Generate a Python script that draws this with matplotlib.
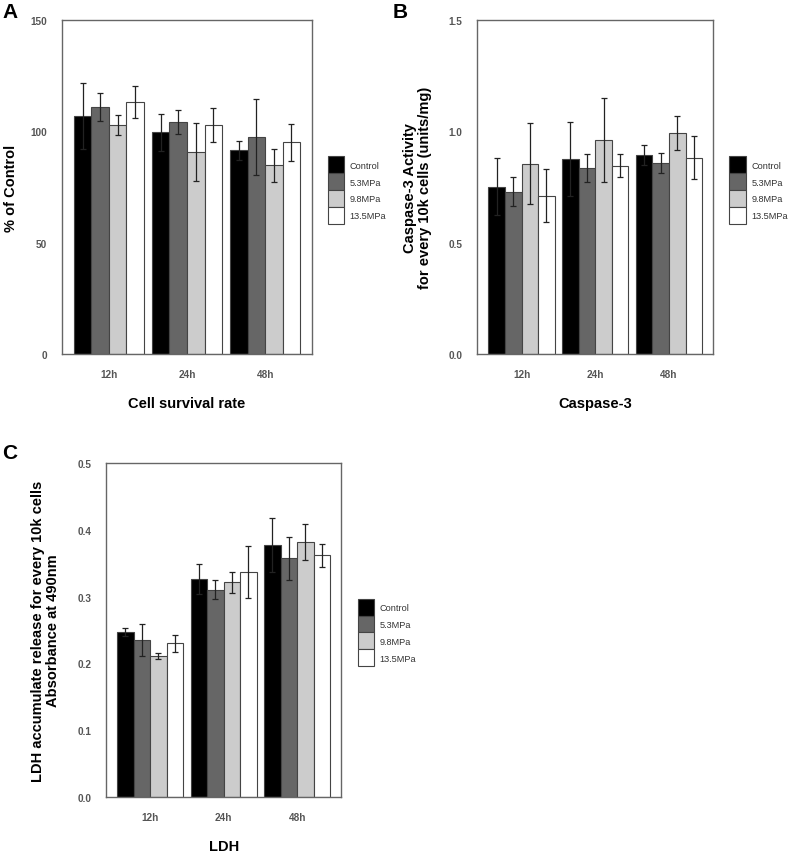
import numpy as np
import matplotlib
matplotlib.use("Agg")
import matplotlib.pyplot as plt

plt.rcParams['font.family'] = ['Liberation Sans', 'DejaVu Sans']

# data
times = ["12h", "24h", "48h"]
groups = ["Control", "5.3MPa", "9.8MPa", "13.5MPa"]
colors = ["#000000", "#666666", "#cccccc", "#ffffff"]

survival = [[106.8, 99.5, 91.4],
            [110.7, 104.1, 97.6],
            [102.8, 90.8, 84.7],
            [113.1, 102.8, 95.0]]
survival_err = [[14.7, 8.2, 4.4],
                [6.3, 5.3, 17.0],
                [4.7, 13.0, 7.3],
                [7.0, 7.6, 8.4]]

caspase = [[0.752, 0.876, 0.895],
           [0.729, 0.835, 0.859],
           [0.855, 0.961, 0.991],
           [0.711, 0.846, 0.882]]
caspase_err = [[0.127, 0.165, 0.045],
               [0.066, 0.063, 0.044],
               [0.180, 0.187, 0.077],
               [0.120, 0.050, 0.097]]

ldh = [[0.2465, 0.3267, 0.377],
       [0.235, 0.310, 0.357],
       [0.211, 0.321, 0.381],
       [0.230, 0.337, 0.3616]]
ldh_err = [[0.006, 0.0224, 0.040],
           [0.024, 0.0144, 0.032],
           [0.004, 0.016, 0.027],
           [0.013, 0.039, 0.0175]]

W, H = 789, 853
fig = plt.figure(figsize=(W / 100, H / 100), dpi=100)


def px_axes(left, top, right, bottom):
    return fig.add_axes([left / W, 1 - bottom / H, (right - left) / W, (bottom - top) / H])


def panel(ax, vals, errs, ymax, yticks, ytl, ylabel, xlabel, ylab_x, leg_xy):
    x = np.arange(len(times))
    bw = 0.225
    for i in range(len(groups)):
        ax.bar(x + (i - 1.5) * bw, vals[i], bw, color=colors[i], edgecolor="#444444",
               linewidth=0.8, label=groups[i], zorder=2)
        ax.errorbar(x + (i - 1.5) * bw, vals[i], yerr=errs[i], fmt="none", ecolor="#222222",
                    elinewidth=0.9, capsize=2.5, capthick=0.9, zorder=3)
    ax.set_xlim(-0.6, 2.6)
    ax.set_ylim(0, ymax)
    ax.set_xticks(x)
    ax.set_xticklabels(times)
    ax.set_yticks(yticks)
    ax.set_yticklabels(ytl)
    ax.tick_params(length=0, labelsize=7.2, labelcolor="#555555", pad=10.5)
    for t in ax.get_xticklabels() + ax.get_yticklabels():
        t.set_fontweight("bold")
    for s in ax.spines.values():
        s.set_color("#666666")
        s.set_linewidth(1.0)
    ax.set_ylabel(ylabel, fontsize=10.5, fontweight="bold", linespacing=1.1)
    ax.yaxis.set_label_coords(ylab_x, 0.5)
    ax.set_xlabel(xlabel, fontsize=10.5, fontweight="bold", labelpad=12)
    ax.legend(loc="upper left", bbox_to_anchor=leg_xy, frameon=False, fontsize=6.6,
              handlelength=1.8, handleheight=2.45, labelspacing=0.0, borderpad=0,
              handletextpad=0.6, labelcolor="#333333")


axA = px_axes(62, 20.7, 312, 355.3)
panel(axA, survival, survival_err, 150, [0, 50, 100, 150], ["0", "50", "100", "150"],
      "% of Control", "Cell survival rate", -0.176, (1.044, 0.605))

axB = px_axes(477.3, 20.7, 713.3, 355.3)
panel(axB, caspase, caspase_err, 1.5, [0, 0.5, 1.0, 1.5], ["0.0", "0.5", "1.0", "1.5"],
      "Caspase-3 Activity\nfor every 10k cells (units/mg)", "Caspase-3", -0.193, (1.048, 0.605))

axC = px_axes(106, 463.7, 341.3, 798.3)
panel(axC, ldh, ldh_err, 0.5, [0, 0.1, 0.2, 0.3, 0.4, 0.5],
      ["0.0", "0.1", "0.2", "0.3", "0.4", "0.5"],
      "LDH accumulate release for every 10k cells\nAbsorbance at 490nm", "LDH", -0.196, (1.05, 0.607))

fig.text(2 / W, 1 - 3 / H, "A", fontsize=15, fontweight="bold", va="top")
fig.text(393 / W, 1 - 3 / H, "B", fontsize=15, fontweight="bold", va="top")
fig.text(2 / W, 1 - 444 / H, "C", fontsize=15, fontweight="bold", va="top")

fig.savefig("out.png", dpi=100)
